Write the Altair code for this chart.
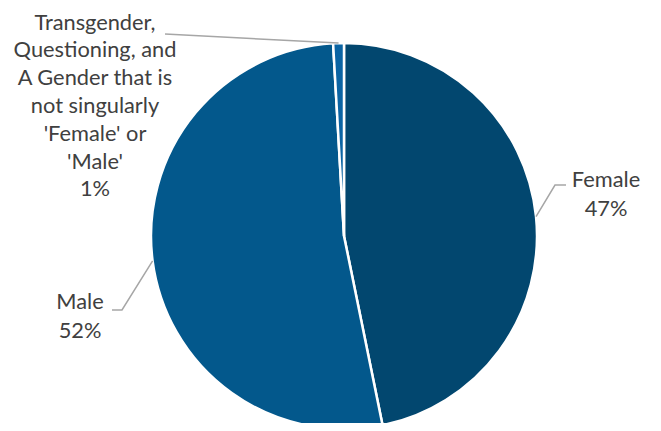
import math
import altair as alt
import pandas as pd

# ---- data ----
categories = ["Female", "Male", "Other"]
values = [46.8, 52.3, 0.9]
pct_labels = ["47%", "52%", "1%"]
name_labels = [
    "Female",
    "Male",
    "Transgender,\nQuestioning, and\nA Gender that is\nnot singularly\n'Female' or\n'Male'",
]
colors = ["#02476f", "#03588c", "#0b64a3"]

# ---- layout (pixels in chart coordinates) ----
W, H = 645, 415
CX, CY = 336, 228
R = 193
# position of each label's first line
LABEL_POS = {"Female": (598, 172), "Male": (72, 294), "Other": (87, 14.5)}
LINE_H = {"Female": 28.7, "Male": 28.7, "Other": 27.8}
LEADER_PTS = {
    "Female": [(547, 177), (558, 177)],
    "Male": [(114, 302), (104, 302)],
    "Other": [(157, 26)],
}

df = pd.DataFrame({
    "category": categories,
    "value": values,
    "order": list(range(len(categories))),
    "label": [f"{n}\n{p}" for n, p in zip(name_labels, pct_labels)],
})
df["lx"] = [LABEL_POS[c][0] for c in categories]
df["ly"] = [LABEL_POS[c][1] for c in categories]

# leader lines: start at the slice's mid-angle on the rim
total = sum(values)
rows = []
cum = 0.0
for c, v in zip(categories, values):
    a = 2 * math.pi * (cum + v / 2) / total
    cum += v
    pts = [(CX + R * math.sin(a), CY - R * math.cos(a))] + LEADER_PTS[c]
    for k, (x, y) in enumerate(pts):
        rows.append({"category": c, "k": k, "x": x, "y": y})
lead = pd.DataFrame(rows)

xs = alt.Scale(domain=[0, W], range=[0, W])
ys = alt.Scale(domain=[0, H], range=[0, H])

pie = alt.Chart(df).mark_arc(radius=R, stroke="white", strokeWidth=2.5).encode(
    theta=alt.Theta("value:Q", stack=True),
    order=alt.Order("order:Q"),
    color=alt.Color("category:N", scale=alt.Scale(domain=categories, range=colors), legend=None),
    x=alt.value(CX),
    y=alt.value(CY),
)

lines = alt.Chart(lead).mark_line(color="#a6a6a6", strokeWidth=1.5).encode(
    x=alt.X("x:Q", scale=xs, axis=None),
    y=alt.Y("y:Q", scale=ys, axis=None),
    detail="category:N",
    order="k:Q",
)

def label_layer(cat):
    return alt.Chart(df).transform_filter(alt.datum.category == cat).mark_text(
        font="Lato", fontSize=21.8, color="#404040", lineBreak="\n",
        lineHeight=LINE_H[cat], align="center", baseline="middle",
    ).encode(
        x=alt.X("lx:Q", scale=xs, axis=None),
        y=alt.Y("ly:Q", scale=ys, axis=None),
        text="label:N",
    )

chart = alt.layer(pie, lines, *[label_layer(c) for c in categories]).properties(
    width=W, height=H, autosize="none", padding=0
).configure_view(strokeWidth=0)

chart.save("out.html", embed_options={"renderer": "svg", "actions": False})
